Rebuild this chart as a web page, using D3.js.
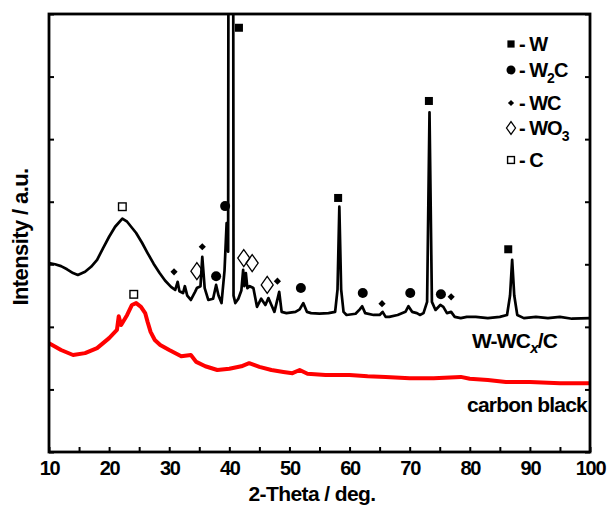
<!DOCTYPE html>
<html>
<head>
<meta charset="utf-8">
<script src="https://cdn.jsdelivr.net/npm/d3@7"></script>
<style>
  body { margin: 0; background: #fff; }
  svg text { font-family: "Liberation Sans", Arial, sans-serif; font-weight: bold; }
</style>
</head>
<body>
<svg id="chart" width="609" height="507"></svg>
<script>
'use strict';

// W-WCx/C pattern: [2theta, intensity]
var blackScan = [
  [10.0, 302], [11.0, 300], [12.0, 297], [13.0, 292], [14.0, 286], [14.8, 283], [16.0, 288],
  [17.0, 296], [18.0, 307], [19.0, 326], [20.0, 344], [21.0, 360], [22.2, 373], [23.0, 368],
  [24.0, 356], [24.5, 350], [25.5, 334], [26.4, 318], [27.4, 301], [28.4, 286], [29.3, 274],
  [30.3, 264], [31.0, 259], [31.4, 272], [31.7, 257], [32.3, 254], [32.6, 265], [33.0, 250],
  [33.6, 243], [34.3, 256], [34.6, 262], [35.2, 265], [35.5, 312], [35.9, 262], [36.5, 243],
  [37.3, 245], [37.8, 267], [38.2, 250], [38.7, 238], [39.2, 290], [39.55, 366], [39.8, 320],
  [40.26, 4500], [40.7, 250], [41.0, 238], [41.5, 245], [42.0, 258], [42.3, 291], [42.5, 265],
  [42.75, 286], [43.0, 262], [43.4, 265], [44.0, 262], [44.6, 232], [45.3, 245], [46.0, 235],
  [46.5, 246], [47.0, 235], [47.5, 224], [48.3, 256], [48.7, 224], [49.5, 222], [51.0, 224],
  [51.7, 228], [52.3, 238], [52.9, 224], [53.6, 222], [55.0, 221], [56.5, 222], [57.6, 224],
  [58.0, 260], [58.3, 392], [58.6, 260], [59.0, 224], [59.5, 219], [61.0, 221], [61.7, 228],
  [62.1, 233], [62.6, 222], [64.0, 219], [65.0, 219], [65.5, 224], [66.0, 216], [66.6, 216],
  [68.0, 219], [69.3, 224], [69.8, 233], [70.4, 224], [71.2, 222], [71.7, 219], [72.3, 222],
  [72.9, 240], [73.3, 543], [73.7, 240], [74.3, 227], [75.1, 235], [75.6, 232], [76.2, 222],
  [76.9, 224], [77.5, 216], [78.5, 214], [79.5, 216], [81.0, 216], [83.0, 214], [85.0, 216],
  [86.2, 219], [86.7, 250], [87.05, 307], [87.4, 250], [87.9, 219], [89.0, 214], [91.0, 216],
  [93.0, 214], [95.0, 216], [97.0, 213], [100.0, 214]
];

// carbon black pattern
var redScan = [
  [10.0, 174], [12.0, 163], [14.0, 155], [16.0, 158], [18.0, 166], [20.0, 182], [21.3, 195],
  [21.6, 217], [22.0, 203], [23.0, 219], [23.8, 235], [24.5, 238], [25.3, 232], [26.0, 222],
  [26.4, 208], [26.9, 192], [27.6, 179], [28.5, 171], [30.0, 163], [32.0, 153], [33.6, 155],
  [34.5, 144], [36.0, 137], [38.0, 131], [40.0, 133], [42.0, 137], [43.3, 142], [45.0, 136],
  [47.0, 131], [49.0, 128], [50.5, 126], [51.7, 131], [53.0, 125], [56.0, 123], [60.0, 123],
  [63.0, 121], [66.0, 120], [70.0, 118], [74.0, 118], [78.5, 120], [80.0, 117], [83.0, 115],
  [86.0, 112], [90.0, 112], [95.0, 110], [100.0, 110]
];

// phase markers [2theta, intensity]
var markW   = [[41.6, 678], [58.1, 406], [73.2, 561], [86.4, 324]];
var markW2C = [[37.8, 281], [39.3, 393], [51.9, 262], [62.2, 254], [70.1, 254], [75.2, 252]];
var markWC  = [[30.8, 288], [35.5, 328], [48.0, 273], [65.4, 237], [76.9, 248]];
var markWO3 = [[34.6, 289], [42.4, 310], [43.8, 302], [46.3, 267]];
var markC   = [[22.2, 392], [24.1, 252]];

var xTicks = d3.range(10, 101, 5);
var yTicks = d3.range(0, 701, 100);

var legendItems = [
  {type: 'W', label: 'W'},
  {type: 'W2C', label: 'W', sub: '2', rest: 'C'},
  {type: 'WC', label: 'WC'},
  {type: 'WO3', label: 'WO', sub: '3'},
  {type: 'C', label: 'C'}
];

var svg = d3.select('#chart');
var pLeft = 49, pRight = 590, pTop = 14, pBottom = 452;

var x = d3.scaleLinear().domain([10, 100]).range([pLeft, pRight]);
var y = d3.scaleLinear().domain([0, 700]).range([pBottom, pTop]);

svg.append('defs').append('clipPath').attr('id', 'plotclip')
  .append('rect').attr('x', pLeft).attr('y', pTop).attr('width', pRight - pLeft).attr('height', pBottom - pTop);

// ticks
var xAxis = svg.append('g').attr('transform', 'translate(0,' + pBottom + ')')
  .call(d3.axisBottom(x).tickValues(xTicks).tickSize(-5).tickPadding(9)
    .tickFormat(function(d){ return d % 10 === 0 ? d : ''; }));
svg.append('g').attr('transform', 'translate(' + pLeft + ',0)')
  .call(d3.axisLeft(y).tickValues(yTicks).tickSize(-5).tickFormat(''));
svg.append('g').attr('transform', 'translate(' + pRight + ',0)')
  .call(d3.axisRight(y).tickValues(yTicks).tickSize(-5).tickFormat(''));

svg.selectAll('.domain').remove();
svg.selectAll('.tick line').attr('stroke', '#000').attr('stroke-width', 2);
xAxis.selectAll('text').attr('font-size', 20).attr('fill', '#000')
  .style('letter-spacing', '-1.3px');

var line = d3.line().x(function(d){ return x(d[0]); }).y(function(d){ return y(d[1]); });
var plot = svg.append('g').attr('clip-path', 'url(#plotclip)');

plot.append('path').datum(redScan).attr('d', line)
  .attr('fill', 'none').attr('stroke', '#ff0000').attr('stroke-width', 4)
  .attr('stroke-linejoin', 'round');
plot.append('path').datum(blackScan).attr('d', line)
  .attr('fill', 'none').attr('stroke', '#000').attr('stroke-width', 2.7)
  .attr('stroke-linejoin', 'round');

// frame
svg.append('rect').attr('x', pLeft).attr('y', pTop).attr('width', pRight - pLeft).attr('height', pBottom - pTop)
  .attr('fill', 'none').attr('stroke', '#000').attr('stroke-width', 2.8);

function drawMark(g, type, cx, cy, s) {
  s = s || 1;
  if (type === 'W') {
    g.append('rect').attr('x', cx - 4 * s).attr('y', cy - 4 * s).attr('width', 8 * s).attr('height', 8 * s)
      .attr('fill', '#000');
  } else if (type === 'W2C') {
    g.append('circle').attr('cx', cx).attr('cy', cy).attr('r', 5 * s).attr('fill', '#000');
  } else if (type === 'WC') {
    g.append('path').attr('d', d3.symbol().type(d3.symbolSquare).size(26 * s * s)())
      .attr('transform', 'translate(' + cx + ',' + cy + ') rotate(45)').attr('fill', '#000');
  } else if (type === 'WO3') {
    var w = 6 * s, h = 8.5 * s;
    g.append('path').attr('d', 'M' + cx + ',' + (cy - h) + 'L' + (cx + w) + ',' + cy + 'L' + cx + ',' + (cy + h) +
      'L' + (cx - w) + ',' + cy + 'Z')
      .attr('fill', 'none').attr('stroke', '#000').attr('stroke-width', 1.3);
  } else if (type === 'C') {
    g.append('rect').attr('x', cx - 3.8 * s).attr('y', cy - 3.8 * s).attr('width', 7.6 * s).attr('height', 7.6 * s)
      .attr('fill', '#fff').attr('stroke', '#000').attr('stroke-width', 1.4);
  }
}

var marks = svg.append('g');
[['W', markW], ['W2C', markW2C], ['WC', markWC], ['WO3', markWO3], ['C', markC]].forEach(function(m){
  m[1].forEach(function(d){ drawMark(marks, m[0], x(d[0]), y(d[1])); });
});

// legend
var legendY = [44, 70, 103, 128, 160];
var legend = svg.append('g');
legendItems.forEach(function(item, i){
  var ly = legendY[i];
  var sc = item.type === 'WO3' ? 0.75 : (item.type === 'WC' ? 0.85 : 0.9);
  drawMark(legend, item.type, 511, ly, sc);
  var t = legend.append('text').attr('x', 519).attr('y', ly + 7).attr('font-size', 20)
    .style('letter-spacing', '-1px');
  t.append('tspan').text('- ' + item.label);
  if (item.sub) {
    t.append('tspan').attr('font-size', 14).attr('dy', 6).text(item.sub);
    if (item.rest) t.append('tspan').attr('dy', -6).attr('font-size', 20).text(item.rest);
  }
});

// sample labels
var lab1 = svg.append('text').attr('x', 472).attr('y', 348).attr('font-size', 21)
  .style('letter-spacing', '-0.8px');
lab1.append('tspan').text('W-WC');
lab1.append('tspan').attr('font-size', 15).attr('font-style', 'italic').attr('dy', 5).text('x');
lab1.append('tspan').attr('dy', -5).text('/C');

svg.append('text').attr('x', 587).attr('y', 412).attr('text-anchor', 'end').attr('font-size', 21)
  .style('letter-spacing', '-0.8px').text('carbon black');

// axis titles
svg.append('text').attr('x', 312).attr('y', 501).attr('text-anchor', 'middle')
  .attr('font-size', 21).style('letter-spacing', '-0.6px').text('2-Theta / deg.');
svg.append('text').attr('transform', 'translate(28,237) rotate(-90)').attr('text-anchor', 'middle')
  .attr('font-size', 22).style('letter-spacing', '-0.6px').text('Intensity / a.u.');
</script>
</body>
</html>
